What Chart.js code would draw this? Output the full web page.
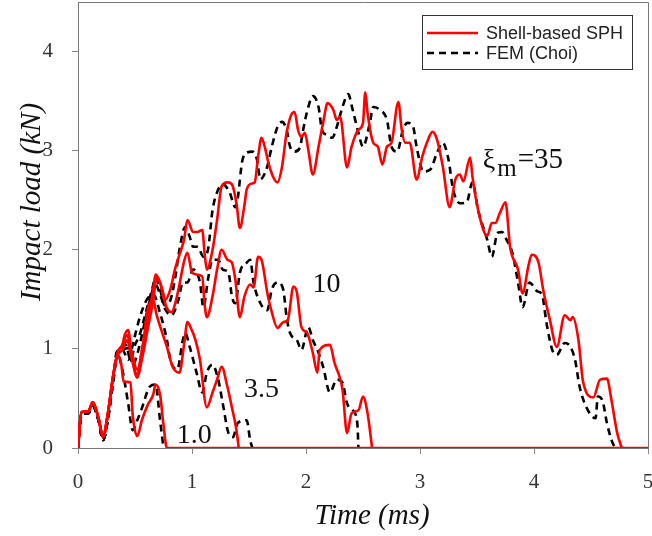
<!DOCTYPE html>
<html>
<head>
<meta charset="utf-8">
<script src="https://cdn.jsdelivr.net/npm/chart.js@4.4.0/dist/chart.umd.min.js"></script>
<style>
  html, body {margin: 0; padding: 0; background: #fff;}
</style>
</head>
<body>
<canvas id="chart" width="652" height="536"></canvas>
<script>
// axis ticks
const xTicks = [0, 1, 2, 3, 4, 5];
const yTicks = [0, 1, 2, 3, 4];
const legendLabels = ['Shell-based SPH', 'FEM (Choi)'];

// shared start of every run (time in ms, load in kN)
const startTime = [0, 0.03, 0.09, 0.13, 0.18, 0.22, 0.26, 0.31];
const startSph = [0, 0.36, 0.37, 0.46, 0.30, 0.11, 0.33, 0.74];
const startFem = [0, 0.33, 0.35, 0.42, 0.28, 0.08, 0.28, 0.69];

// xi_m = 35
const timeSph35 = [0.35, 0.39, 0.41, 0.44, 0.47, 0.52, 0.56, 0.61, 0.66, 0.68,
  0.72, 0.76, 0.81, 0.85, 0.89, 0.93, 0.96, 1.01, 1.05, 1.09,
  1.11, 1.13, 1.18, 1.22, 1.26, 1.31, 1.35, 1.39, 1.42, 1.46,
  1.48, 1.53, 1.55, 1.58, 1.61, 1.64, 1.67, 1.71, 1.75, 1.79,
  1.83, 1.88, 1.90, 1.93, 1.96, 1.99, 2.02, 2.06, 2.11, 2.15,
  2.19, 2.24, 2.27, 2.30, 2.36, 2.40, 2.46, 2.50, 2.52, 2.54,
  2.59, 2.63, 2.67, 2.71, 2.75, 2.81, 2.84, 2.87, 2.91, 2.97,
  3.02, 3.06, 3.11, 3.15, 3.20, 3.26, 3.31, 3.35, 3.38, 3.44,
  3.46, 3.51, 3.59, 3.63, 3.66, 3.70, 3.75, 3.79, 3.86, 3.90,
  3.95, 3.98, 4.04, 4.08, 4.14, 4.20, 4.27, 4.32, 4.34, 4.39,
  4.43, 4.52, 4.58, 4.64, 4.68, 4.73, 4.77];
const loadSph35 = [0.97, 1.04, 1.14, 1.19, 0.94, 0.74, 0.99, 1.29, 1.60, 1.75,
  1.67, 1.49, 1.60, 1.80, 1.95, 2.10, 2.30, 2.18, 2.18, 2.20,
  1.97, 1.80, 2.00, 2.30, 2.64, 2.68, 2.66, 2.47, 2.22, 2.45,
  2.61, 2.67, 2.68, 2.94, 3.13, 3.03, 2.88, 2.74, 2.68, 2.84,
  3.18, 3.38, 3.39, 3.21, 3.14, 3.18, 3.01, 2.76, 3.04, 3.28,
  3.48, 3.41, 3.31, 3.34, 2.83, 3.04, 3.21, 3.28, 3.59, 3.38,
  3.08, 3.04, 2.86, 3.04, 3.08, 3.49, 3.21, 3.08, 3.08, 2.71,
  2.94, 3.08, 3.19, 3.11, 2.84, 2.43, 2.71, 2.76, 2.69, 2.93,
  2.74, 2.40, 2.14, 2.27, 2.27, 2.37, 2.48, 2.03, 1.80, 1.56,
  1.83, 1.95, 1.87, 1.60, 1.29, 1.02, 1.34, 1.29, 1.32, 1.09,
  0.67, 0.51, 0.69, 0.70, 0.48, 0.15, 0];
const timeFem35 = [0.35, 0.39, 0.42, 0.46, 0.50, 0.54, 0.60, 0.65, 0.68, 0.72,
  0.76, 0.81, 0.85, 0.89, 0.94, 0.98, 1.01, 1.05, 1.10, 1.14,
  1.18, 1.22, 1.27, 1.33, 1.38, 1.40, 1.44, 1.48, 1.53, 1.57,
  1.60, 1.62, 1.66, 1.70, 1.75, 1.79, 1.83, 1.86, 1.90, 1.95,
  1.97, 2.02, 2.06, 2.11, 2.14, 2.18, 2.23, 2.27, 2.32, 2.37,
  2.41, 2.46, 2.50, 2.56, 2.59, 2.65, 2.71, 2.75, 2.80, 2.85,
  2.89, 2.94, 2.97, 3.03, 3.09, 3.15, 3.20, 3.25, 3.29, 3.35,
  3.41, 3.46, 3.51, 3.59, 3.63, 3.68, 3.72, 3.76, 3.81, 3.86,
  3.90, 3.96, 4.03, 4.07, 4.11, 4.16, 4.20, 4.27, 4.32, 4.36,
  4.40, 4.46, 4.54, 4.56, 4.60, 4.64, 4.68, 4.71];
const loadFem35 = [0.99, 1.01, 1.04, 0.89, 1.04, 1.14, 1.39, 1.60, 1.72, 1.60,
  1.44, 1.49, 1.70, 2.00, 2.23, 2.13, 2.03, 2.03, 1.93, 2.00,
  2.40, 2.58, 2.66, 2.58, 2.43, 2.51, 2.89, 2.98, 2.99, 2.91,
  2.71, 2.73, 2.84, 3.04, 3.24, 3.29, 3.21, 3.04, 2.99, 3.04,
  3.18, 3.44, 3.55, 3.44, 3.21, 3.16, 3.13, 3.24, 3.44, 3.57,
  3.41, 3.18, 3.04, 3.28, 3.44, 3.41, 3.31, 3.04, 2.99, 3.21,
  3.28, 3.24, 3.04, 2.79, 2.81, 2.98, 3.08, 2.91, 2.61, 2.47,
  2.48, 2.68, 2.40, 2.10, 1.93, 2.17, 2.18, 2.10, 1.97, 1.67,
  1.42, 1.67, 1.58, 1.55, 1.26, 0.99, 0.94, 1.06, 1.02, 0.89,
  0.62, 0.41, 0.30, 0.52, 0.48, 0.25, 0.08, 0];

// xi_m = 10
const timeSph10 = [0.35, 0.39, 0.43, 0.47, 0.52, 0.56, 0.61, 0.66, 0.69, 0.74,
  0.77, 0.82, 0.86, 0.89, 0.93, 0.96, 1.00, 1.04, 1.09, 1.11,
  1.13, 1.18, 1.22, 1.26, 1.31, 1.35, 1.38, 1.42, 1.46, 1.51,
  1.54, 1.58, 1.61, 1.66, 1.70, 1.75, 1.80, 1.84, 1.89, 1.92,
  1.96, 2.01, 2.06, 2.10, 2.12, 2.21, 2.25, 2.32, 2.36, 2.40,
  2.46, 2.50, 2.54, 2.58];
const loadSph10 = [0.94, 0.99, 1.09, 0.91, 0.71, 0.89, 1.19, 1.49, 1.72, 1.60,
  1.44, 1.37, 1.49, 1.65, 1.88, 1.97, 1.77, 1.75, 1.73, 1.46,
  1.32, 1.53, 1.80, 2.00, 1.90, 1.87, 1.70, 1.32, 1.53, 1.65,
  1.62, 1.93, 1.90, 1.57, 1.37, 1.21, 1.27, 1.29, 1.63, 1.57,
  1.22, 1.16, 0.96, 0.76, 0.99, 1.04, 0.86, 0.59, 0.15, 0.35,
  0.38, 0.52, 0.35, 0];
const timeFem10 = [0.35, 0.39, 0.44, 0.48, 0.53, 0.58, 0.63, 0.68, 0.72, 0.77,
  0.82, 0.88, 0.92, 0.96, 1.01, 1.07, 1.10, 1.14, 1.18, 1.23,
  1.27, 1.32, 1.35, 1.38, 1.42, 1.48, 1.51, 1.54, 1.60, 1.66,
  1.70, 1.75, 1.80, 1.83, 1.86, 1.92, 1.96, 2.02, 2.06, 2.11,
  2.15, 2.21, 2.27, 2.32, 2.36, 2.41, 2.45, 2.46];
const loadFem10 = [0.97, 0.99, 1.01, 0.84, 0.99, 1.24, 1.49, 1.65, 1.55, 1.39,
  1.34, 1.49, 1.67, 1.67, 1.80, 1.67, 1.42, 1.70, 1.90, 1.90,
  1.80, 1.77, 1.53, 1.46, 1.77, 1.87, 1.90, 1.67, 1.46, 1.39,
  1.60, 1.67, 1.60, 1.32, 1.16, 1.09, 0.99, 1.22, 1.09, 0.96,
  0.82, 0.56, 0.69, 0.66, 0.45, 0.38, 0.25, 0];

// xi_m = 3.5
const timeSph3 = [0.35, 0.39, 0.43, 0.47, 0.52, 0.57, 0.61, 0.66, 0.69, 0.74,
  0.78, 0.83, 0.89, 0.93, 0.96, 0.99, 1.03, 1.07, 1.13, 1.18,
  1.22, 1.26, 1.31, 1.35, 1.39, 1.41];
const loadSph3 = [0.97, 1.04, 1.14, 0.97, 0.79, 1.04, 1.39, 1.49, 1.34, 1.16,
  1.02, 0.82, 0.76, 1.04, 1.27, 1.21, 1.09, 0.89, 0.41, 0.56,
  0.69, 0.82, 0.62, 0.41, 0.18, 0];
const timeFem3 = [0.35, 0.39, 0.44, 0.49, 0.54, 0.60, 0.66, 0.72, 0.78, 0.81,
  0.87, 0.92, 0.94, 0.98, 1.04, 1.09, 1.13, 1.18, 1.23, 1.27,
  1.32, 1.36, 1.40, 1.48, 1.51, 1.53];
const loadFem3 = [0.99, 0.99, 0.89, 1.09, 1.31, 1.49, 1.55, 1.36, 1.09, 0.89,
  0.79, 1.09, 1.16, 1.02, 0.76, 0.56, 0.76, 0.84, 0.69, 0.45,
  0.15, 0.11, 0.25, 0.28, 0.08, 0];

// xi_m = 1.0
const timeSph1 = [0.35, 0.38, 0.40, 0.46, 0.48, 0.52, 0.56, 0.61, 0.66, 0.68, 0.72, 0.75, 0.78, 5];
const loadSph1 = [0.94, 0.84, 0.67, 0.66, 0.33, 0.12, 0.28, 0.43, 0.54, 0.64, 0.54, 0.23, 0, 0];
const timeFem1 = [0.34, 0.38, 0.41, 0.44, 0.48, 0.52, 0.56, 0.63, 0.68, 0.72, 0.75];
const loadFem1 = [0.97, 0.84, 0.66, 0.45, 0.18, 0.28, 0.40, 0.62, 0.64, 0.28, 0];

// curve labels on the plot
const curveLabels = ['1.0', '3.5', '10'];
const curveLabelTime = [1.02, 1.61, 2.18];
const curveLabelLoad = [0.05, 0.51, 1.57];
const xiLabelTime = 3.55;
const xiLabelLoad = 2.83;

const toPoints = (t0, v0, t, v) => {
  const tt = t0.concat(t);
  const vv = v0.concat(v);
  const pts = [];
  for (let i = 0; i < Math.min(tt.length, vv.length); i++) {
    pts.push({x: tt[i], y: vv[i]});
  }
  return pts;
};

const sph = (t, v) => ({
  data: toPoints(startTime, startSph, t, v),
  borderColor: '#ff0000',
  borderWidth: 2.6,
  order: 0,
});
const fem = (t, v) => ({
  data: toPoints(startTime, startFem, t, v),
  borderColor: '#000000',
  borderWidth: 2.6,
  borderDash: [7, 5],
  order: 1,
});

const serif = 'Liberation Serif, Times New Roman, serif';

// drop the extra room chart.js keeps for edge labels
const noPad = (s) => {
  s.paddingTop = 0;
  s.paddingBottom = 0;
  s.paddingLeft = 0;
  s.paddingRight = 0;
};

const extras = {
  id: 'extras',
  afterDraw(chart) {
    const {ctx, chartArea: a, scales} = chart;
    ctx.save();
    // frame top / right
    ctx.strokeStyle = '#777';
    ctx.lineWidth = 1;
    ctx.beginPath();
    ctx.moveTo(a.left, a.top + 0.5);
    ctx.lineTo(a.right + 0.5, a.top + 0.5);
    ctx.lineTo(a.right + 0.5, a.bottom);
    ctx.stroke();

    // curve labels
    ctx.fillStyle = '#111';
    ctx.textBaseline = 'alphabetic';
    ctx.textAlign = 'center';
    ctx.font = '28px ' + serif;
    curveLabels.forEach((txt, i) => {
      ctx.fillText(txt, scales.x.getPixelForValue(curveLabelTime[i]),
          scales.y.getPixelForValue(curveLabelLoad[i]));
    });
    let lx = scales.x.getPixelForValue(xiLabelTime);
    const ly = scales.y.getPixelForValue(xiLabelLoad);
    ctx.textAlign = 'left';
    ctx.fillText('ξ', lx, ly);
    lx += ctx.measureText('ξ').width + 2;
    ctx.font = '25px ' + serif;
    ctx.fillText('m', lx, ly + 8);
    lx += ctx.measureText('m').width + 1;
    ctx.font = '29px ' + serif;
    ctx.fillText('=35', lx, ly);

    // axis titles
    ctx.font = 'italic 29px ' + serif;
    ctx.textAlign = 'center';
    ctx.textBaseline = 'middle';
    ctx.fillText('Time (ms)', 372, 516);
    ctx.save();
    ctx.translate(32, 202);
    ctx.rotate(-Math.PI / 2);
    ctx.fillText('Impact load (kN)', 0, 0);
    ctx.restore();

    // legend
    const bx = a.right - 226;
    const by = a.top + 13;
    ctx.fillStyle = '#fff';
    ctx.fillRect(bx, by, 210, 54);
    ctx.strokeStyle = '#333';
    ctx.strokeRect(bx + 0.5, by + 0.5, 210, 54);
    ctx.font = '18px Liberation Sans, Arial, sans-serif';
    ctx.textAlign = 'left';
    ctx.fillStyle = '#222';
    legendLabels.forEach((txt, i) => {
      const ds = chart.data.datasets[i === 0 ? 0 : 1];
      const y = by + 18 + i * 20;
      ctx.strokeStyle = ds.borderColor;
      ctx.lineWidth = 2.6;
      ctx.setLineDash(ds.borderDash || []);
      ctx.beginPath();
      ctx.moveTo(bx + 5, y);
      ctx.lineTo(bx + 56, y);
      ctx.stroke();
      ctx.setLineDash([]);
      ctx.fillText(txt, bx + 64, y + 1);
    });
    ctx.restore();
  },
};

new Chart(document.getElementById('chart'), {
  type: 'line',
  data: {
    datasets: [
      sph(timeSph35, loadSph35),
      fem(timeFem35, loadFem35),
      sph(timeSph10, loadSph10),
      fem(timeFem10, loadFem10),
      sph(timeSph3, loadSph3),
      fem(timeFem3, loadFem3),
      sph(timeSph1, loadSph1),
      fem(timeFem1, loadFem1),
    ],
  },
  options: {
    responsive: false,
    animation: false,
    layout: {
      autoPadding: false,
      padding: {top: 2, right: 4, left: 0, bottom: 0},
    },
    elements: {
      point: {radius: 0},
      line: {cubicInterpolationMode: 'monotone', fill: false},
    },
    plugins: {
      legend: {display: false},
      tooltip: {enabled: false},
    },
    scales: {
      x: {
        type: 'linear',
        min: 0,
        max: 5,
        afterFit: (s) => {
          s.height = 88;
          noPad(s);
        },
        afterBuildTicks: (s) => {
          s.ticks = xTicks.map((v) => ({value: v}));
        },
        grid: {drawOnChartArea: false, tickLength: 6, color: '#888'},
        border: {color: '#777', width: 1},
        ticks: {
          font: {family: serif, size: 21},
          color: '#333',
          padding: 16,
          maxRotation: 0,
        },
      },
      y: {
        type: 'linear',
        min: 0,
        max: 4.5,
        afterFit: (s) => {
          s.width = 78;
          noPad(s);
        },
        afterBuildTicks: (s) => {
          s.ticks = yTicks.map((v) => ({value: v}));
        },
        grid: {drawOnChartArea: false, tickLength: 6, color: '#888'},
        border: {color: '#777', width: 1},
        ticks: {
          font: {family: serif, size: 21},
          color: '#333',
          padding: 19,
        },
      },
    },
  },
  plugins: [extras],
});
</script>
</body>
</html>
